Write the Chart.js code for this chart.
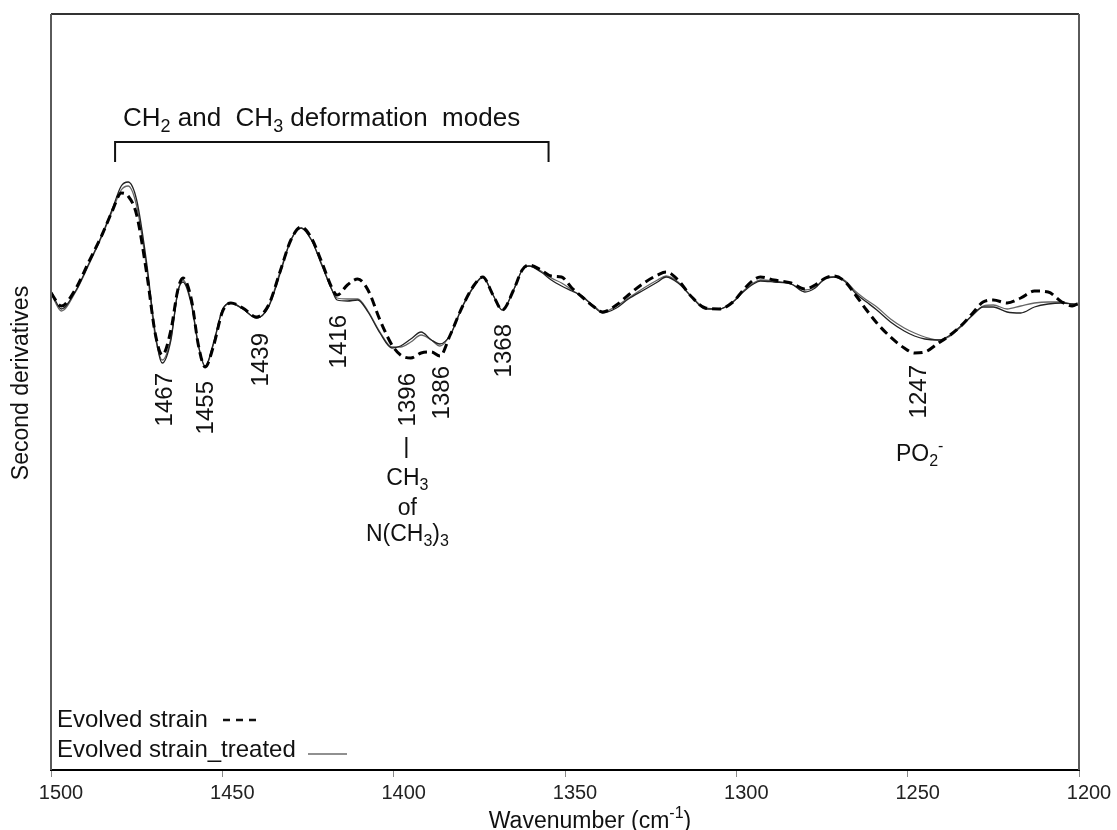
<!DOCTYPE html>
<html>
<head>
<meta charset="utf-8">
<script src="https://cdn.jsdelivr.net/npm/chart.js@4"></script>
<style>
  html, body { margin: 0; padding: 0; background: #fff; }
  #wrap { width: 1117px; height: 830px; }
</style>
</head>
<body>
<div id="wrap"><canvas id="chart"></canvas></div>
<script>
const FONT = "'Liberation Sans', Arial, sans-serif";

// wavenumber grid (cm-1), descending
const wavenumbers = [
    1500, 1497, 1493, 1489, 1485, 1482, 1479.5, 1477.5, 1475, 1472,
    1469.5, 1467.5, 1465, 1463, 1461.5, 1459, 1457, 1455, 1452.5, 1450,
    1447.5, 1444, 1440, 1436.5, 1433, 1430, 1427, 1424, 1421, 1418,
    1416.5, 1413.5, 1410.5, 1407.5, 1404, 1400.5, 1398, 1395, 1392, 1389,
    1386.5, 1383.5, 1380, 1376.5, 1374, 1371, 1368.3, 1365, 1362.5, 1360.5,
    1357, 1354, 1351, 1348, 1345, 1341.5, 1339, 1335, 1331.5, 1327,
    1323, 1320.5, 1317, 1313, 1309, 1305, 1301, 1298, 1295, 1293,
    1289, 1284, 1280, 1277, 1274, 1271.5, 1268.5, 1265, 1262, 1259,
    1255, 1251, 1248, 1245, 1241, 1238, 1234.5, 1231, 1228, 1225,
    1221, 1217, 1213, 1209, 1205, 1202, 1200
];

// second derivative spectra (arbitrary units)
const evolvedStrain = [
    0.07, -0.06, 0.10, 0.38, 0.66, 0.90, 1.07, 1.04, 0.85, 0.25,
    -0.35, -0.55, -0.30, 0.10, 0.22, 0.00, -0.45, -0.67, -0.45, -0.12,
    -0.03, -0.08, -0.17, -0.05, 0.30, 0.60, 0.73, 0.62, 0.38, 0.12,
    0.05, 0.15, 0.21, 0.10, -0.20, -0.45, -0.55, -0.58, -0.53, -0.52,
    -0.56, -0.35, -0.07, 0.15, 0.23, 0.05, -0.10, 0.10, 0.30, 0.35,
    0.30, 0.24, 0.23, 0.12, 0.03, -0.07, -0.12, -0.05, 0.05, 0.17,
    0.25, 0.28, 0.20, 0.03, -0.08, -0.09, -0.02, 0.10, 0.20, 0.23,
    0.20, 0.17, 0.11, 0.15, 0.22, 0.24, 0.19, 0.04, -0.10, -0.23,
    -0.37, -0.48, -0.53, -0.52, -0.43, -0.36, -0.26, -0.13, -0.02, 0.00,
    -0.03, 0.02, 0.09, 0.08, -0.02, -0.06, -0.03
];

const treatedRep1 = [
    0.09, -0.09, 0.08, 0.36, 0.66, 0.92, 1.14, 1.18, 1.00, 0.35,
    -0.35, -0.63, -0.40, 0.08, 0.18, -0.05, -0.45, -0.66, -0.42, -0.10,
    -0.03, -0.09, -0.18, -0.07, 0.28, 0.60, 0.72, 0.60, 0.35, 0.10,
    0.00, -0.01, 0.00, -0.12, -0.33, -0.48, -0.46, -0.39, -0.32, -0.40,
    -0.44, -0.35, -0.07, 0.14, 0.23, 0.05, -0.10, 0.10, 0.30, 0.34,
    0.28, 0.20, 0.14, 0.09, 0.04, -0.07, -0.13, -0.08, 0.01, 0.10,
    0.18, 0.23, 0.17, 0.03, -0.09, -0.09, -0.02, 0.08, 0.16, 0.19,
    0.18, 0.16, 0.08, 0.12, 0.22, 0.23, 0.19, 0.06, -0.02, -0.10,
    -0.22, -0.31, -0.36, -0.39, -0.40, -0.36, -0.26, -0.15, -0.07, -0.07,
    -0.12, -0.13, -0.07, -0.04, -0.03, -0.04, -0.05
];

const treatedRep2 = [
    0.07, -0.11, 0.07, 0.35, 0.65, 0.90, 1.10, 1.14, 0.94, 0.30,
    -0.38, -0.60, -0.38, 0.08, 0.20, -0.03, -0.45, -0.67, -0.43, -0.10,
    -0.03, -0.09, -0.18, -0.06, 0.30, 0.60, 0.72, 0.60, 0.36, 0.10,
    0.02, 0.01, 0.01, -0.11, -0.32, -0.47, -0.47, -0.42, -0.35, -0.40,
    -0.46, -0.35, -0.07, 0.14, 0.23, 0.05, -0.10, 0.10, 0.30, 0.34,
    0.29, 0.22, 0.17, 0.10, 0.03, -0.06, -0.12, -0.06, 0.02, 0.12,
    0.20, 0.24, 0.18, 0.03, -0.08, -0.09, -0.02, 0.09, 0.17, 0.20,
    0.19, 0.16, 0.10, 0.13, 0.21, 0.23, 0.20, 0.08, 0.00, -0.07,
    -0.19, -0.28, -0.33, -0.37, -0.40, -0.37, -0.27, -0.15, -0.06, -0.05,
    -0.09, -0.06, -0.03, -0.02, -0.02, -0.04, -0.03
];

const xTicks = [1500, 1450, 1400, 1350, 1300, 1250, 1200];
const peakLabels = [1467, 1455, 1439, 1416, 1396, 1386, 1368, 1247];
const seriesNames = ["Evolved strain", "Evolved strain_treated"];

function points(values) {
    return wavenumbers.map((w, i) => ({ x: w, y: values[i] }));
}

// text made of runs; shift 1 = subscript, -1 = superscript
function drawRich(ctx, parts, x, y, size, align) {
    const small = Math.round(size * 0.68);
    let total = 0;
    for (const [t, s] of parts) {
        ctx.font = `${s ? small : size}px ${FONT}`;
        total += ctx.measureText(t).width;
    }
    let cx = align === "center" ? x - total / 2 : x;
    ctx.textAlign = "left";
    ctx.textBaseline = "alphabetic";
    for (const [t, s] of parts) {
        ctx.font = `${s ? small : size}px ${FONT}`;
        const dy = s === 1 ? size * 0.22 : s === -1 ? -size * 0.42 : 0;
        ctx.fillText(t, cx, y + dy);
        cx += ctx.measureText(t).width;
    }
}

const annotations = {
    id: "annotations",
    afterDraw(chart) {
        const { ctx, chartArea: a, scales: { x, y } } = chart;
        ctx.save();

        // plot frame (bottom edge is the x axis)
        ctx.lineWidth = 2;
        ctx.strokeStyle = "#333";
        ctx.beginPath();
        ctx.moveTo(a.left, a.top);
        ctx.lineTo(a.right, a.top);
        ctx.stroke();
        ctx.strokeStyle = "#5a5a5a";
        ctx.beginPath();
        ctx.moveTo(a.left, a.top);
        ctx.lineTo(a.left, a.bottom);
        ctx.moveTo(a.right, a.top);
        ctx.lineTo(a.right, a.bottom);
        ctx.stroke();

        ctx.fillStyle = "#111";
        ctx.strokeStyle = "#111";

        // bracket over the CH2/CH3 region
        const bx1 = x.getPixelForValue(1481.3), bx2 = x.getPixelForValue(1354.8);
        const by = y.getPixelForValue(1.58), bEnd = y.getPixelForValue(1.38);
        ctx.lineWidth = 2;
        ctx.beginPath();
        ctx.moveTo(bx1, bEnd);
        ctx.lineTo(bx1, by);
        ctx.lineTo(bx2, by);
        ctx.lineTo(bx2, bEnd);
        ctx.stroke();
        drawRich(ctx, [["CH", 0], ["2", 1], [" and  CH", 0], ["3", 1], [" deformation  modes", 0]],
            x.getPixelForValue(1479), y.getPixelForValue(1.74), 26, "left");

        // peak positions, rotated
        const tops = [-0.73, -0.81, -0.33, -0.15, -0.73, -0.66, -0.24, -0.65];
        ctx.font = `24px ${FONT}`;
        peakLabels.forEach((w, i) => {
            ctx.save();
            ctx.translate(x.getPixelForValue(w), y.getPixelForValue(tops[i]));
            ctx.rotate(-Math.PI / 2);
            ctx.textAlign = "right";
            ctx.textBaseline = "middle";
            ctx.fillText(String(w), 0, 1);
            ctx.restore();
        });

        // CH3 of N(CH3)3 under the 1396 band
        const cx = x.getPixelForValue(1396);
        ctx.lineWidth = 2;
        ctx.beginPath();
        ctx.moveTo(cx - 1, y.getPixelForValue(-1.37));
        ctx.lineTo(cx - 1, y.getPixelForValue(-1.58));
        ctx.stroke();
        drawRich(ctx, [["CH", 0], ["3", 1]], cx, y.getPixelForValue(-1.85), 23, "center");
        drawRich(ctx, [["of", 0]], cx, y.getPixelForValue(-2.15), 23, "center");
        drawRich(ctx, [["N(CH", 0], ["3", 1], [")", 0], ["3", 1]], cx, y.getPixelForValue(-2.41), 23, "center");

        // phosphate band
        drawRich(ctx, [["PO", 0], ["2", 1], ["-", -1]], x.getPixelForValue(1246.5), y.getPixelForValue(-1.61), 23, "center");

        // legend in the lower left corner
        ctx.font = `24px ${FONT}`;
        ctx.textAlign = "left";
        ctx.textBaseline = "middle";
        ctx.fillText(seriesNames[0], a.left + 6, a.bottom - 50);
        ctx.fillText(seriesNames[1], a.left + 6, a.bottom - 20);
        ctx.lineWidth = 2.5;
        ctx.setLineDash([7, 6]);
        ctx.beginPath();
        ctx.moveTo(a.left + 172, a.bottom - 50);
        ctx.lineTo(a.left + 206, a.bottom - 50);
        ctx.stroke();
        ctx.setLineDash([]);
        ctx.lineWidth = 1.2;
        ctx.strokeStyle = "#222";
        ctx.beginPath();
        ctx.moveTo(a.left + 257, a.bottom - 16);
        ctx.lineTo(a.left + 296, a.bottom - 16);
        ctx.stroke();

        // axis titles
        ctx.fillStyle = "#111";
        ctx.save();
        ctx.translate(22, 383);
        ctx.rotate(-Math.PI / 2);
        ctx.font = `23px ${FONT}`;
        ctx.textAlign = "center";
        ctx.textBaseline = "middle";
        ctx.fillText("Second derivatives", 0, 0);
        ctx.restore();
        drawRich(ctx, [["Wavenumber (cm", 0], ["-1", -1], [")", 0]], 590, 828, 23, "center");

        ctx.restore();
    }
};

new Chart(document.getElementById("chart"), {
    type: "line",
    data: {
        datasets: [
            {
                label: seriesNames[0],
                data: points(evolvedStrain),
                borderColor: "#000",
                borderWidth: 3,
                borderDash: [9, 5],
            },
            {
                label: seriesNames[1],
                data: points(treatedRep1),
                borderColor: "#222",
                borderWidth: 1.3,
            },
            {
                label: seriesNames[1],
                data: points(treatedRep2),
                borderColor: "#666",
                borderWidth: 1.3,
            },
        ],
    },
    options: {
        responsive: true,
        maintainAspectRatio: false,
        animation: false,
        layout: { padding: { left: 51, right: 38, top: 14, bottom: 0 } },
        elements: {
            point: { radius: 0 },
            line: { cubicInterpolationMode: "monotone", fill: false },
        },
        plugins: {
            legend: { display: false },
            tooltip: { enabled: false },
        },
        scales: {
            x: {
                type: "linear",
                reverse: true,
                min: 1200,
                max: 1500,
                afterBuildTicks: (s) => { s.ticks = xTicks.map((v) => ({ value: v })); },
                afterFit: (s) => { s.height = 60; },
                grid: { drawOnChartArea: false, drawTicks: true, tickLength: 7, color: "#888" },
                border: { display: true, color: "#000", width: 2 },
                ticks: {
                    color: "#222",
                    padding: 4,
                    labelOffset: 10,
                    maxRotation: 0,
                    font: { family: FONT, size: 20 },
                    callback: (v) => String(v),
                },
            },
            y: {
                display: false,
                min: -4.7,
                max: 2.86,
            },
        },
    },
    plugins: [annotations],
});
</script>
</body>
</html>
